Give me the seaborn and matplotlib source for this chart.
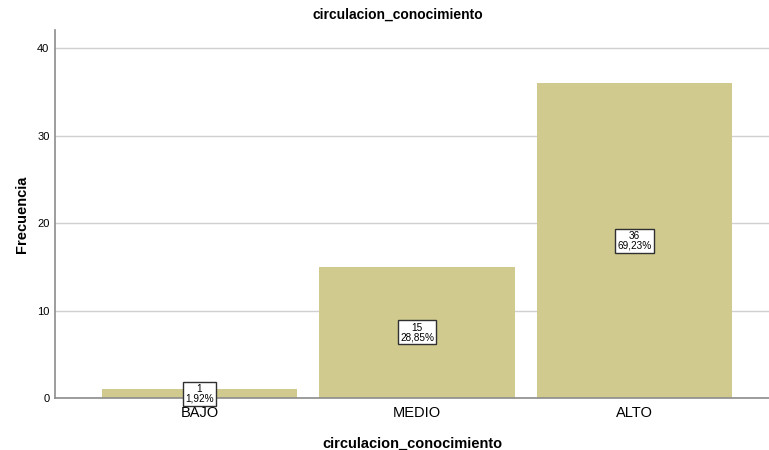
import matplotlib
matplotlib.use("Agg")
import matplotlib.pyplot as plt
import seaborn as sns
import pandas as pd

categories = ["BAJO", "MEDIO", "ALTO"]
counts = [1, 15, 36]
percents = ["1,92%", "28,85%", "69,23%"]
yticks = [0, 10, 20, 30, 40]

sns.set_style("white")
plt.rcParams["font.family"] = ["Liberation Sans", "DejaVu Sans"]
plt.rcParams["text.color"] = "black"
plt.rcParams["axes.labelcolor"] = "black"
plt.rcParams["xtick.color"] = "black"
plt.rcParams["ytick.color"] = "black"

df = pd.DataFrame({"cat": categories, "n": counts})

fig = plt.figure(figsize=(7.69, 4.5), dpi=100)
ax = fig.add_axes([55 / 769, 52 / 450, (769 - 55) / 769, 368 / 450])

sns.barplot(data=df, x="cat", y="n", order=categories, color="#D0CA8E",
            saturation=1, width=0.897, ax=ax, zorder=2, linewidth=0)

ax.set_xlim(-0.664, 2.618)
ax.set_ylim(0, 42.06)
ax.set_yticks(yticks)
ax.set_yticklabels([str(t) for t in yticks], fontsize=8)
ax.tick_params(axis="y", length=0, pad=4)
ax.tick_params(axis="x", length=0, pad=6, labelsize=10.5)
ax.grid(axis="y", color="#D0D0D0", linewidth=1, zorder=0)
ax.set_axisbelow(True)

for s in ["top", "right"]:
    ax.spines[s].set_visible(False)
for s in ["left", "bottom"]:
    ax.spines[s].set_color("#8C8C8C")
    ax.spines[s].set_linewidth(1.2)

for i, (n, p) in enumerate(zip(counts, percents)):
    ax.text(i, n / 2, f"{n}\n{p}", ha="center", va="center", fontsize=7.2,
            linespacing=0.95, zorder=5, color="black",
            bbox=dict(boxstyle="square,pad=0.22", facecolor="white",
                      edgecolor="#303030", linewidth=1))

ax.set_xlabel("circulacion_conocimiento", fontsize=10.5, fontweight="bold", labelpad=12)
ax.set_ylabel("Frecuencia", fontsize=10.5, fontweight="bold", labelpad=6)
fig.text(398 / 769, 1 - 15 / 450, "circulacion_conocimiento",
         ha="center", va="center", fontsize=10, fontweight="bold")

fig.savefig("out.png", dpi=100)
